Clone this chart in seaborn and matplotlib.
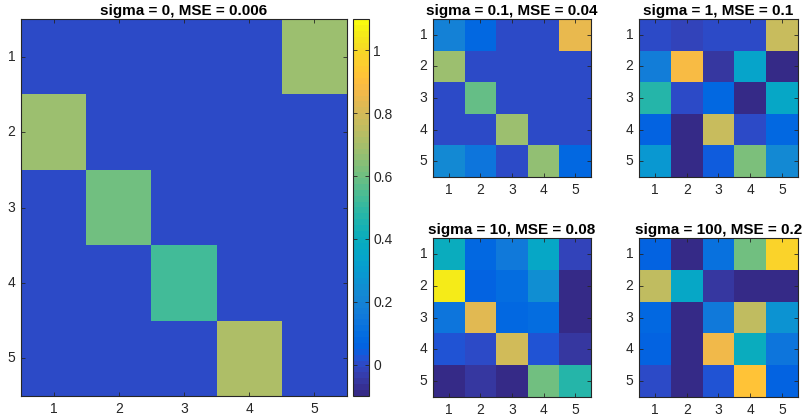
import numpy as np
import matplotlib
matplotlib.use("Agg")
import matplotlib.pyplot as plt
from matplotlib.colors import ListedColormap
import seaborn as sns

plt.rcParams['font.family'] = ['Liberation Sans', 'DejaVu Sans']

labels = [1, 2, 3, 4, 5]
cbar_ticks = [0, 0.2, 0.4, 0.6, 0.8, 1]
cbar_labels = ["0", "0.2", "0.4", "0.6", "0.8", "1"]

titles = ["sigma = 0, MSE = 0.006", "sigma = 0.1, MSE = 0.04", "sigma = 1, MSE = 0.1",
          "sigma = 10, MSE = 0.08", "sigma = 100, MSE = 0.2"]

m_sigma0 = [[0, 0, 0, 0, 0.68],
            [0.68, 0, 0, 0, 0],
            [0, 0.60, 0, 0, 0],
            [0, 0, 0.52, 0, 0],
            [0, 0, 0, 0.71, 0]]
m_sigma01 = [[0.19, 0.07, 0, 0, 0.84],
             [0.68, 0, 0, 0, 0],
             [0, 0.58, 0, 0, 0],
             [0, 0, 0.68, 0, 0],
             [0.22, 0.14, 0, 0.66, 0.07]]
m_sigma1 = [[0.0, -0.01, 0.0, 0.0, 0.78],
            [0.18, 0.88, -0.06, 0.34, -0.09],
            [0.48, 0.0, 0.07, -0.1, 0.36],
            [0.06, -0.1, 0.78, 0.01, 0.07],
            [0.29, -0.1, 0.04, 0.62, 0.22]]
m_sigma10 = [[0.39, 0.07, 0.16, 0.36, -0.02],
             [1.05, 0.05, 0.10, 0.25, -0.1],
             [0.13, 0.82, 0.07, 0.10, -0.1],
             [0.02, 0.0, 0.79, 0.02, -0.05],
             [-0.1, -0.06, -0.1, 0.61, 0.48]]
m_sigma100 = [[0.06, -0.1, 0.11, 0.61, 0.98],
              [0.76, 0.36, -0.06, -0.1, -0.09],
              [0.07, -0.1, 0.16, 0.76, 0.26],
              [0.05, -0.1, 0.87, 0.40, 0.13],
              [0.0, -0.1, 0.02, 0.92, 0.05]]

parula_data = [
    [0.2081, 0.1663, 0.5292], [0.2116, 0.1898, 0.5777], [0.2123, 0.2138, 0.6270], [0.2081, 0.2386, 0.6771],
    [0.1959, 0.2645, 0.7279], [0.1707, 0.2919, 0.7792], [0.1253, 0.3242, 0.8303], [0.0591, 0.3598, 0.8683],
    [0.0117, 0.3875, 0.8820], [0.0060, 0.4086, 0.8828], [0.0165, 0.4266, 0.8786], [0.0329, 0.4430, 0.8720],
    [0.0498, 0.4586, 0.8641], [0.0629, 0.4737, 0.8554], [0.0723, 0.4887, 0.8467], [0.0779, 0.5040, 0.8384],
    [0.0793, 0.5200, 0.8312], [0.0749, 0.5375, 0.8263], [0.0641, 0.5570, 0.8240], [0.0488, 0.5772, 0.8228],
    [0.0343, 0.5966, 0.8199], [0.0265, 0.6137, 0.8135], [0.0239, 0.6287, 0.8038], [0.0231, 0.6418, 0.7913],
    [0.0228, 0.6535, 0.7768], [0.0267, 0.6642, 0.7607], [0.0384, 0.6743, 0.7436], [0.0590, 0.6838, 0.7254],
    [0.0843, 0.6928, 0.7062], [0.1133, 0.7015, 0.6859], [0.1453, 0.7098, 0.6646], [0.1801, 0.7177, 0.6424],
    [0.2178, 0.7250, 0.6193], [0.2586, 0.7317, 0.5954], [0.3022, 0.7376, 0.5712], [0.3482, 0.7424, 0.5473],
    [0.3953, 0.7459, 0.5244], [0.4420, 0.7481, 0.5033], [0.4871, 0.7491, 0.4840], [0.5300, 0.7491, 0.4661],
    [0.5709, 0.7485, 0.4494], [0.6099, 0.7473, 0.4337], [0.6473, 0.7456, 0.4188], [0.6834, 0.7435, 0.4044],
    [0.7184, 0.7411, 0.3905], [0.7525, 0.7384, 0.3768], [0.7858, 0.7356, 0.3633], [0.8185, 0.7327, 0.3498],
    [0.8507, 0.7299, 0.3360], [0.8824, 0.7274, 0.3217], [0.9139, 0.7258, 0.3063], [0.9450, 0.7261, 0.2886],
    [0.9739, 0.7314, 0.2666], [0.9938, 0.7455, 0.2403], [0.9990, 0.7653, 0.2164], [0.9955, 0.7861, 0.1967],
    [0.9880, 0.8066, 0.1794], [0.9789, 0.8271, 0.1633], [0.9697, 0.8481, 0.1475], [0.9626, 0.8705, 0.1309],
    [0.9589, 0.8949, 0.1132], [0.9598, 0.9218, 0.0948], [0.9661, 0.9514, 0.0755], [0.9763, 0.9831, 0.0538]]
parula = ListedColormap(parula_data, name="parula")

VMIN, VMAX = -0.1, 1.1
W, H = 803, 418
fig = plt.figure(figsize=(W / 100, H / 100), dpi=100)

def px_axes(x0, y0, x1, y1):
    return fig.add_axes([x0 / W, 1 - y1 / H, (x1 - x0) / W, (y1 - y0) / H])

edge = (0.15, 0.15, 0.15)

def style(ax, title):
    for s in ax.spines.values():
        s.set_visible(True)
        s.set_color(edge)
        s.set_linewidth(0.8)
    ax.tick_params(direction="in", length=3, width=0.6, color=edge,
                   top=True, right=True, bottom=True, left=True,
                   labelcolor=(0.15, 0.15, 0.15), labelsize=10, pad=4)
    ax.set_xticklabels(labels, rotation=0)
    ax.set_yticklabels(labels, rotation=0)
    ax.set_title(title, fontsize=11, fontweight="bold", pad=3)
    ax.set_xlabel("")
    ax.set_ylabel("")

panels = [
    (m_sigma0, (21, 19, 347, 396)),
    (m_sigma01, (433, 19, 591, 177)),
    (m_sigma1, (639, 19, 798, 177)),
    (m_sigma10, (433, 238, 591, 397)),
    (m_sigma100, (639, 238, 798, 397)),
]

for i, (mat, box) in enumerate(panels):
    ax = px_axes(*box)
    if i == 0:
        cax = px_axes(353, 19, 369, 396)
        sns.heatmap(np.array(mat), ax=ax, cmap=parula, vmin=VMIN, vmax=VMAX,
                    cbar=True, cbar_ax=cax, xticklabels=labels, yticklabels=labels)
        cb = ax.collections[0].colorbar
        cb.set_ticks(cbar_ticks)
        cb.set_ticklabels(cbar_labels)
        cb.outline.set_edgecolor(edge)
        cb.outline.set_linewidth(0.8)
        cax.tick_params(direction="in", length=3, width=0.6, color=edge,
                        left=True, right=True, labelcolor=(0.15, 0.15, 0.15),
                        labelsize=10, pad=3)
    else:
        sns.heatmap(np.array(mat), ax=ax, cmap=parula, vmin=VMIN, vmax=VMAX,
                    cbar=False, xticklabels=labels, yticklabels=labels)
    style(ax, titles[i])

fig.savefig("out.png", dpi=100)
